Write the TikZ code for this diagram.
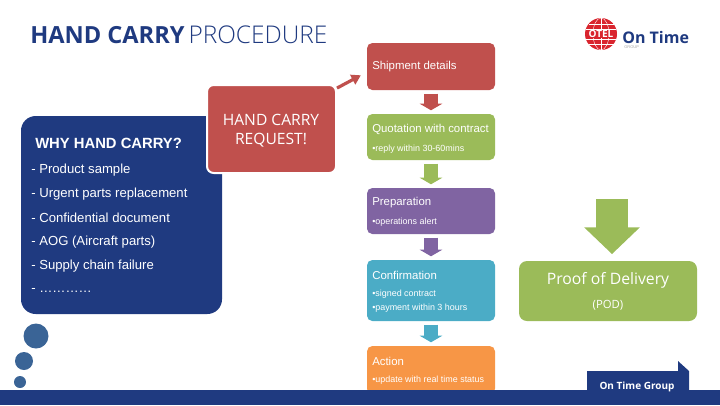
\documentclass[tikz,border=0pt]{standalone}
\usepackage{fontspec}
\setmainfont{Liberation Sans}
\newfontfamily\opensans{Open Sans}
\newfontfamily\opensanslight{Open Sans Light}
\usetikzlibrary{arrows.meta}
\definecolor{navy}{HTML}{1F3A80}
\definecolor{dotblue}{HTML}{3A6496}
\definecolor{logored}{HTML}{D9252E}
\definecolor{stepred}{HTML}{C0504D}
\definecolor{stepgreen}{HTML}{9BBB59}
\definecolor{steppurple}{HTML}{8064A2}
\definecolor{stepteal}{HTML}{4BACC6}
\definecolor{steporange}{HTML}{F79646}
\tikzset{
  stepbox/.style={rounded corners=4pt, minimum width=96pt, inner sep=0pt},
  steptitle/.style={anchor=west, text=white, inner sep=0pt, font=\fontsize{8.55}{10}\selectfont},
  stepnote/.style={anchor=west, text=white, inner sep=0pt, font=\fontsize{6.7}{8}\selectfont},
  whyitem/.style={anchor=west, text=white, inner sep=0pt, font=\fontsize{9.85}{11}\selectfont},
  flowarrow/.style={line width=11pt, shorten <=2.6pt, shorten >=2.6pt, -{Triangle[length=5pt, width=17pt]}},
}
\begin{document}
\begin{tikzpicture}[x=0.75pt, y=-0.75pt]
  \useasboundingbox (0,0) rectangle (720,405);
  % title
  \node[anchor=base west, inner sep=0pt, text=navy, font=\fontsize{17.7}{19}\selectfont] (title) at (30,43) {{\opensans\bfseries HAND CARRY}\,{\opensanslight\fontsize{18.3}{19}\selectfont PROCEDURE}};
  % logo
  \node[circle, fill=logored, minimum size=24pt, inner sep=0pt] (logo) at (601,34) {};
  \foreach \h/\w in {-10/12.5, -5/15, 5/15, 10/12.5} \draw[white, line width=0.3pt] (601-\w,34+\h) -- (601+\w,34+\h);
  \draw[white, line width=0.3pt] (logo.north) -- (logo.south);
  \draw[white, line width=0.3pt] (logo.center) ellipse (8 and 16);
  \node[text=white, inner sep=0.5pt, fill=logored, font=\opensans\bfseries\fontsize{7.5}{8}\selectfont] (otel) at (601,34) {OTEL};
  \node[anchor=west, inner sep=0pt, text=navy, font=\opensans\bfseries\fontsize{12}{13}\selectfont] (ontime) at (622,37) {On Time};
  \node[anchor=west, inner sep=0pt, text=gray!70, font=\fontsize{3}{3}\selectfont] (group) at (624,47.5) {GROUP};
  % left panel
  \node[fill=navy, rounded corners=11pt, minimum width=150.75pt, minimum height=148.5pt, inner sep=0pt] (why) at (121.5,215) {};
  \node[fill=stepred, draw=white, line width=1.5pt, rounded corners=5pt, minimum width=96.75pt, minimum height=66pt, inner sep=0pt] (request) at (271.5,129) {};
  \node[align=center, text=white, inner sep=0pt, font=\opensans\fontsize{11.7}{14.25}\selectfont] (requesttext) at (271,131) {HAND CARRY\\REQUEST!};
  \node[anchor=west, inner sep=0pt, text=white, font=\bfseries\fontsize{11.1}{12}\selectfont] (whytitle) at (35,143.5) {WHY HAND CARRY?};
  \foreach \i/\y/\t in {1/170/Product sample, 2/194/Urgent parts replacement, 3/218/Confidential document, 4/242/AOG (Aircraft parts), 5/266/Supply chain failure, 6/290/{\dots\dots\dots\dots}}
    \node[whyitem] (item\i) at (31,\y) {- \t};
  % bubbles
  \fill[dotblue] (36,336) circle (12.5);
  \fill[dotblue] (24,361) circle (9);
  \fill[dotblue] (20,382) circle (6);
  % steps
  \node[stepbox, fill=stepred, minimum height=35.25pt] (shipment) at (431,66.5) {};
  \node[stepbox, fill=stepgreen, minimum height=34.5pt] (quotation) at (431,137) {};
  \node[stepbox, fill=steppurple, minimum height=34.5pt] (preparation) at (431,211) {};
  \node[stepbox, fill=stepteal, minimum height=45.75pt] (confirmation) at (431,290.5) {};
  \node[stepbox, fill=steporange, minimum height=36pt] (action) at (431,370) {};
  \node[steptitle] (t1) at (372,67) {Shipment details};
  \node[steptitle] (t2) at (372,129) {Quotation with contract};
  \node[stepnote] (n2) at (372,149) {\textbullet reply within 30-60mins};
  \node[steptitle] (t3) at (372,203) {Preparation};
  \node[stepnote] (n3) at (372,222) {\textbullet operations alert};
  \node[steptitle] (t4) at (372,275) {Confirmation};
  \node[stepnote] (n4) at (372,294) {\textbullet signed contract};
  \node[stepnote] (n5) at (372,308) {\textbullet payment within 3 hours};
  \node[steptitle] (t5) at (372,361) {Action};
  \node[stepnote] (n6) at (372,380) {\textbullet update with real time status};
  \draw[flowarrow, stepred] (shipment) -- (quotation);
  \draw[flowarrow, stepgreen] (quotation) -- (preparation);
  \draw[flowarrow, steppurple] (preparation) -- (confirmation);
  \draw[flowarrow, stepteal] (confirmation) -- (action);
  \draw[stepred, line width=2.4pt, shorten >=5pt, -{Triangle[length=7pt, width=8pt]}] (request.32) -- (shipment.185);
  % proof of delivery
  \node[fill=stepgreen, rounded corners=6pt, minimum width=133.5pt, minimum height=45pt, inner sep=0pt] (pod) at (608,291) {};
  \node[text=white, inner sep=0pt, font=\opensans\fontsize{11.8}{13}\selectfont] (podtitle) at (608,280) {Proof of Delivery};
  \node[text=white, inner sep=0pt, font=\opensans\fontsize{8.5}{9}\selectfont] (podnote) at (608,305) {(POD)};
  \coordinate (podin) at (612,199);
  \draw[stepgreen, line width=24pt, shorten >=5pt, -{Triangle[length=20pt, width=40.5pt]}] (podin) -- (podin |- pod.north);
  % footer
  \fill[navy] (0,390) rectangle (720,405);
  \fill[navy] (587,395) -- (587,371) -- (678,371) -- (678,361) -- (689,371) -- (689,395) -- cycle;
  \node[text=white, inner sep=0pt, font=\opensans\bfseries\fontsize{7.5}{9}\selectfont] (group2) at (637,387) {On Time Group};
\end{tikzpicture}
\end{document}
